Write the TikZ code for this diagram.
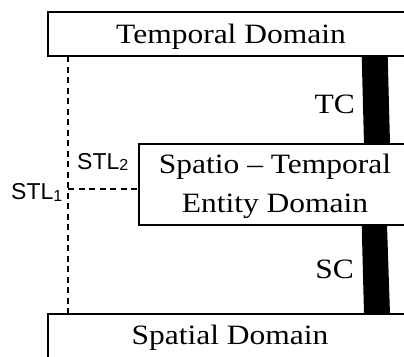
\documentclass[tikz,border=0pt]{standalone}
\usepackage{graphicx}
\usepackage{fontspec}
\setmainfont{Liberation Serif}
\newfontfamily\stlfont{Liberation Sans}
\newcommand{\wide}[1]{\scalebox{1.125}[1]{#1}}
\begin{document}
\begin{tikzpicture}[x=1pt,y=-1pt,
  box/.style={draw=black,line width=1.6pt,inner sep=0pt,outer sep=0pt,anchor=north west},
  serif/.style={font=\fontsize{28}{34}\selectfont,inner sep=0pt,anchor=base},
  stl/.style={font=\stlfont\fontsize{23}{28}\selectfont,inner sep=0pt,anchor=base west},
  dline/.style={line width=1.4pt,dash pattern=on 6pt off 4.5pt}
]
\useasboundingbox (0,0) rectangle (404,356);
\clip (0,0) rectangle (404,356);
% boxes
\node[box,minimum width=364pt,minimum height=44pt] (top) at (48,12) {};
\node[box,minimum width=273pt,minimum height=81pt] (mid) at (139,144) {};
\node[box,minimum width=364pt,minimum height=50pt] (bot) at (48,314) {};
% bars
\fill ([xshift=313.7pt]top.south west) -- ([xshift=339.7pt]top.south west)
  -- ([xshift=251pt]mid.north west) -- ([xshift=225pt]mid.north west) -- cycle;
\fill ([xshift=222.7pt]mid.south west) -- ([xshift=248pt]mid.south west)
  -- ([xshift=342pt]bot.north west) -- ([xshift=316pt]bot.north west) -- cycle;
% dashed links
\draw[dline] ([xshift=20pt]top.south west) -- ([xshift=20pt]bot.north west);
\coordinate (j) at (68,189);
\draw[dline] (j) -- (j -| mid.west);
% texts
\node[serif] (ttxt) at (231,43) {\wide{Temporal Domain}};
\node[serif] (mtxt1) at (275,173) {\wide{Spatio – Temporal}};
\node[serif] (mtxt2) at (275,212) {\wide{Entity Domain}};
\node[serif] (btxt) at (230,344) {\wide{Spatial Domain}};
\node[serif,anchor=base east] (tc) at (355,113) {\wide{TC}};
\node[serif,anchor=base east] (sc) at (354,278) {\wide{SC}};
\node[stl] (stl2) at (77,169) {STL\raisebox{-1pt}{\fontsize{16}{16}\selectfont 2}};
\node[stl] (stl1) at (11,199) {STL\raisebox{-2pt}{\fontsize{16}{16}\selectfont 1}};
\end{tikzpicture}
\end{document}
